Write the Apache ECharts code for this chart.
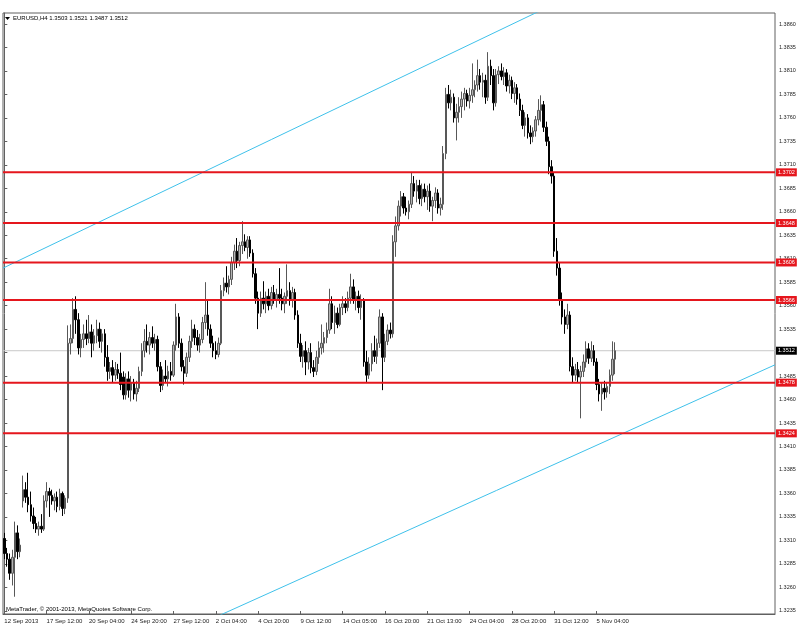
<!DOCTYPE html>
<html>
<head>
<meta charset="utf-8">
<script src="https://cdn.jsdelivr.net/npm/echarts@6/dist/echarts.min.js"></script>
<style>
html,body{margin:0;padding:0;background:#fff;}
#chart{width:800px;height:640px;}
</style>
</head>
<body>
<div id="chart"></div>
<script>
const symbol = 'EURUSD';
const timeframe = 'H4';
const tickLabels = ['12 Sep 2013','17 Sep 12:00','20 Sep 04:00','24 Sep 20:00','27 Sep 12:00','2 Oct 04:00','4 Oct 20:00','9 Oct 12:00','14 Oct 05:00','16 Oct 20:00','21 Oct 13:00','24 Oct 04:00','28 Oct 20:00','31 Oct 12:00','5 Nov 04:00'];
const barsPerLabel = 16;
const totalSlots = 292;
const priceTicks = [1.3235,1.3260,1.3285,1.3310,1.3335,1.3360,1.3385,1.3410,1.3435,1.3460,1.3485,1.3510,1.3535,1.3560,1.3585,1.3610,1.3635,1.3660,1.3685,1.3710,1.3735,1.3760,1.3785,1.3810,1.3835,1.3860];
const levels = [1.3702,1.3648,1.3606,1.3566,1.3478,1.3424];
const lastPrice = 1.3512;
const upperTrend = [[-0.5,1.3600],[210,1.3884]];
const lowerTrend = [[75,1.3222],[291.5,1.3497]];
// [open, high, low, close]
const bars = [
[1.3312,1.3318,1.3290,1.3296],[1.3296,1.3302,1.3282,1.3290],[1.3290,1.3296,1.3268,1.3275],[1.3275,1.3300,1.3262,1.3292],
[1.3292,1.3330,1.3250,1.3318],[1.3318,1.3326,1.3290,1.3298],[1.3298,1.3312,1.3292,1.3305],[1.3352,1.3379,1.3345,1.3364],
[1.3364,1.3372,1.3350,1.3356],[1.3356,1.3382,1.3340,1.3348],[1.3348,1.3362,1.3330,1.3336],[1.3336,1.3345,1.3322,1.3328],
[1.3328,1.3335,1.3318,1.3322],[1.3322,1.3330,1.3315,1.3325],[1.3325,1.3338,1.3318,1.3322],[1.3322,1.3358,1.3320,1.3352],
[1.3352,1.3372,1.3345,1.3362],[1.3362,1.3366,1.3335,1.3358],[1.3358,1.3364,1.3348,1.3352],[1.3352,1.3360,1.3342,1.3356],
[1.3356,1.3362,1.3340,1.3346],[1.3346,1.3365,1.3342,1.3360],[1.3360,1.3362,1.3336,1.3344],[1.3344,1.3358,1.3338,1.3355],
[1.3355,1.3539,1.3350,1.3520],[1.3520,1.3540,1.3508,1.3525],[1.3525,1.3568,1.3520,1.3556],[1.3556,1.3570,1.3530,1.3545],
[1.3545,1.3552,1.3508,1.3515],[1.3515,1.3530,1.3505,1.3524],[1.3524,1.3540,1.3515,1.3530],[1.3530,1.3545,1.3518,1.3525],
[1.3525,1.3550,1.3520,1.3532],[1.3532,1.3540,1.3505,1.3520],[1.3520,1.3535,1.3512,1.3528],[1.3528,1.3545,1.3520,1.3535],
[1.3535,1.3542,1.3515,1.3522],[1.3522,1.3535,1.3510,1.3530],[1.3530,1.3535,1.3495,1.3505],[1.3505,1.3518,1.3480,1.3490],
[1.3490,1.3500,1.3482,1.3494],[1.3494,1.3502,1.3478,1.3486],[1.3486,1.3500,1.3480,1.3492],[1.3492,1.3498,1.3482,1.3488],
[1.3488,1.3510,1.3470,1.3476],[1.3484,1.3490,1.3460,1.3465],[1.3465,1.3488,1.3460,1.3482],[1.3482,1.3490,1.3462,1.3470],
[1.3470,1.3485,1.3458,1.3478],[1.3478,1.3482,1.3460,1.3466],[1.3466,1.3480,1.3458,1.3472],[1.3472,1.3495,1.3468,1.3490],
[1.3490,1.3520,1.3485,1.3512],[1.3512,1.3535,1.3505,1.3522],[1.3522,1.3540,1.3510,1.3518],[1.3518,1.3532,1.3508,1.3526],
[1.3526,1.3538,1.3515,1.3520],[1.3520,1.3530,1.3512,1.3524],[1.3524,1.3528,1.3490,1.3495],[1.3495,1.3500,1.3468,1.3475],
[1.3475,1.3492,1.3470,1.3485],[1.3485,1.3502,1.3478,1.3482],[1.3482,1.3496,1.3474,1.3490],[1.3490,1.3500,1.3480,1.3486],
[1.3486,1.3522,1.3484,1.3518],[1.3518,1.3562,1.3512,1.3548],[1.3548,1.3552,1.3515,1.3520],[1.3520,1.3525,1.3490,1.3495],
[1.3495,1.3502,1.3476,1.3488],[1.3488,1.3510,1.3484,1.3505],[1.3505,1.3528,1.3500,1.3522],[1.3522,1.3545,1.3515,1.3535],
[1.3535,1.3540,1.3518,1.3526],[1.3526,1.3534,1.3512,1.3518],[1.3518,1.3530,1.3510,1.3524],[1.3524,1.3548,1.3520,1.3542],
[1.3542,1.3585,1.3535,1.3550],[1.3550,1.3565,1.3528,1.3535],[1.3535,1.3540,1.3515,1.3520],[1.3520,1.3528,1.3505,1.3512],
[1.3512,1.3522,1.3503,1.3508],[1.3508,1.3526,1.3505,1.3520],[1.3520,1.3582,1.3518,1.3576],[1.3576,1.3590,1.3570,1.3584],
[1.3584,1.3602,1.3574,1.3580],[1.3580,1.3592,1.3572,1.3588],[1.3588,1.3612,1.3582,1.3606],[1.3606,1.3625,1.3598,1.3618],
[1.3618,1.3632,1.3600,1.3608],[1.3608,1.3628,1.3602,1.3624],[1.3624,1.3650,1.3615,1.3628],[1.3628,1.3636,1.3618,1.3622],
[1.3622,1.3634,1.3610,1.3630],[1.3630,1.3634,1.3612,1.3616],[1.3616,1.3620,1.3590,1.3594],[1.3594,1.3600,1.3562,1.3568],
[1.3568,1.3575,1.3535,1.3552],[1.3552,1.3575,1.3548,1.3568],[1.3568,1.3586,1.3556,1.3562],[1.3562,1.3575,1.3552,1.3570],
[1.3570,1.3578,1.3555,1.3560],[1.3560,1.3580,1.3556,1.3574],[1.3574,1.3582,1.3562,1.3566],[1.3566,1.3578,1.3558,1.3572],
[1.3572,1.3600,1.3562,1.3568],[1.3568,1.3578,1.3555,1.3562],[1.3562,1.3574,1.3552,1.3570],[1.3570,1.3604,1.3562,1.3576],
[1.3576,1.3585,1.3560,1.3566],[1.3566,1.3580,1.3558,1.3574],[1.3574,1.3578,1.3545,1.3550],[1.3550,1.3555,1.3515,1.3520],
[1.3520,1.3530,1.3500,1.3506],[1.3506,1.3518,1.3494,1.3512],[1.3512,1.3522,1.3486,1.3500],[1.3500,1.3515,1.3492,1.3510],
[1.3510,1.3520,1.3488,1.3494],[1.3494,1.3502,1.3484,1.3490],[1.3490,1.3512,1.3486,1.3505],[1.3505,1.3522,1.3498,1.3515],
[1.3515,1.3540,1.3508,1.3520],[1.3520,1.3532,1.3510,1.3526],[1.3526,1.3542,1.3520,1.3534],[1.3534,1.3578,1.3530,1.3562],
[1.3562,1.3570,1.3535,1.3542],[1.3542,1.3560,1.3530,1.3552],[1.3552,1.3558,1.3536,1.3540],[1.3540,1.3562,1.3538,1.3558],
[1.3558,1.3570,1.3550,1.3562],[1.3562,1.3568,1.3552,1.3558],[1.3558,1.3575,1.3554,1.3568],[1.3568,1.3594,1.3562,1.3580],
[1.3580,1.3588,1.3562,1.3566],[1.3566,1.3575,1.3555,1.3570],[1.3570,1.3576,1.3552,1.3558],[1.3558,1.3572,1.3545,1.3565],
[1.3565,1.3568,1.3495,1.3500],[1.3500,1.3512,1.3478,1.3486],[1.3486,1.3505,1.3482,1.3498],[1.3498,1.3520,1.3490,1.3512],
[1.3512,1.3528,1.3500,1.3506],[1.3506,1.3525,1.3498,1.3520],[1.3520,1.3556,1.3515,1.3548],[1.3548,1.3552,1.3470,1.3505],
[1.3505,1.3530,1.3500,1.3522],[1.3522,1.3540,1.3518,1.3534],[1.3534,1.3542,1.3525,1.3530],[1.3530,1.3635,1.3526,1.3628],
[1.3628,1.3655,1.3612,1.3645],[1.3645,1.3672,1.3640,1.3666],[1.3666,1.3682,1.3655,1.3676],[1.3676,1.3680,1.3658,1.3664],
[1.3664,1.3676,1.3656,1.3660],[1.3660,1.3672,1.3652,1.3668],[1.3668,1.3702,1.3664,1.3690],[1.3690,1.3698,1.3676,1.3682],
[1.3682,1.3694,1.3670,1.3688],[1.3688,1.3694,1.3668,1.3674],[1.3674,1.3690,1.3666,1.3684],[1.3684,1.3690,1.3670,1.3676],
[1.3676,1.3688,1.3662,1.3682],[1.3682,1.3690,1.3660,1.3666],[1.3666,1.3676,1.3650,1.3672],[1.3672,1.3686,1.3664,1.3680],
[1.3680,1.3684,1.3658,1.3664],[1.3664,1.3675,1.3656,1.3668],[1.3668,1.3730,1.3662,1.3722],[1.3722,1.3792,1.3716,1.3785],
[1.3785,1.3795,1.3770,1.3776],[1.3776,1.3790,1.3768,1.3782],[1.3782,1.3786,1.3755,1.3760],[1.3760,1.3775,1.3736,1.3766],
[1.3766,1.3782,1.3755,1.3772],[1.3772,1.3788,1.3760,1.3780],[1.3780,1.3792,1.3768,1.3786],[1.3786,1.3790,1.3772,1.3778],
[1.3778,1.3792,1.3770,1.3784],[1.3784,1.3818,1.3776,1.3790],[1.3790,1.3800,1.3782,1.3795],[1.3795,1.3822,1.3788,1.3805],
[1.3805,1.3812,1.3790,1.3798],[1.3798,1.3808,1.3782,1.3800],[1.3800,1.3806,1.3775,1.3782],[1.3782,1.3830,1.3778,1.3815],
[1.3815,1.3822,1.3795,1.3805],[1.3805,1.3812,1.3768,1.3776],[1.3776,1.3812,1.3772,1.3806],[1.3806,1.3815,1.3796,1.3810],
[1.3810,1.3818,1.3800,1.3804],[1.3804,1.3814,1.3795,1.3808],[1.3808,1.3812,1.3788,1.3794],[1.3794,1.3806,1.3786,1.3800],
[1.3800,1.3804,1.3780,1.3786],[1.3786,1.3798,1.3776,1.3792],[1.3792,1.3796,1.3774,1.3780],[1.3780,1.3786,1.3762,1.3768],
[1.3768,1.3774,1.3748,1.3752],[1.3752,1.3766,1.3740,1.3760],[1.3760,1.3764,1.3738,1.3744],[1.3744,1.3752,1.3732,1.3740],
[1.3740,1.3750,1.3734,1.3746],[1.3746,1.3762,1.3740,1.3758],[1.3758,1.3780,1.3752,1.3768],[1.3768,1.3784,1.3756,1.3774],
[1.3774,1.3778,1.3745,1.3750],[1.3750,1.3756,1.3730,1.3735],[1.3735,1.3740,1.3700,1.3708],[1.3708,1.3715,1.3690,1.3698],
[1.3698,1.3702,1.3612,1.3618],[1.3618,1.3632,1.3592,1.3600],[1.3600,1.3606,1.3560,1.3566],[1.3566,1.3574,1.3540,1.3548],
[1.3548,1.3556,1.3530,1.3540],[1.3540,1.3562,1.3535,1.3550],[1.3550,1.3554,1.3490,1.3495],[1.3495,1.3505,1.3478,1.3486],
[1.3486,1.3498,1.3480,1.3492],[1.3492,1.3500,1.3478,1.3484],[1.3484,1.3496,1.3440,1.3490],[1.3490,1.3508,1.3484,1.3500],
[1.3500,1.3522,1.3494,1.3514],[1.3514,1.3520,1.3498,1.3504],[1.3504,1.3522,1.3500,1.3512],[1.3512,1.3518,1.3496,1.3500],
[1.3500,1.3504,1.3470,1.3476],[1.3476,1.3482,1.3458,1.3466],[1.3466,1.3478,1.3448,1.3472],[1.3472,1.3480,1.3460,1.3468],
[1.3468,1.3478,1.3462,1.3474],[1.3474,1.3492,1.3466,1.3486],[1.3486,1.3522,1.3480,1.3503],[1.3503,1.3521,1.3487,1.3512]
];

const FONT = 'Liberation Sans';
const slots = [];
for (let i = 0; i < totalSlots; i++) slots.push(String(i));
const candleData = bars.map(b => [b[0], b[3], b[2], b[1]]);
const showTick = (idx) => idx % barsPerLabel === 0 && idx / barsPerLabel < tickLabels.length;
const last = bars[bars.length - 1];
const header = symbol + ',' + timeframe + ' ' + last.map(v => v.toFixed(4)).join(' ');
const xMin = -0.5, xMax = totalSlots - 0.5;

function hLine(v, lineColor, width, labelBg, z) {
  return {
    type: 'line', xAxisIndex: 1, yAxisIndex: 0, z: z, silent: true,
    data: [[xMin, v], [xMax, v]], showSymbol: false, symbol: 'none', clip: false,
    lineStyle: {color: lineColor, width: width},
    endLabel: {show: true, formatter: v.toFixed(4), backgroundColor: labelBg, color: '#fff',
               fontSize: 5.5, fontFamily: FONT, padding: [1, 2, 1, 2], distance: 1}
  };
}

const chart = echarts.init(document.getElementById('chart'), null, {renderer: 'canvas'});
chart.setOption({
  animation: false,
  backgroundColor: '#ffffff',
  grid: {left: 3, right: 25, top: 13, bottom: 26, containLabel: false, outerBoundsMode: 'none',
         show: true, borderColor: '#606060', borderWidth: 1},
  xAxis: [{
    type: 'category', data: slots, boundaryGap: true, gridIndex: 0,
    axisLine: {show: true, lineStyle: {color: '#606060'}},
    axisTick: {show: true, inside: true, length: 3, alignWithLabel: true, interval: (i) => showTick(i), lineStyle: {color: '#606060'}},
    axisLabel: {show: true, interval: (i) => showTick(i), formatter: (v, i) => tickLabels[i / barsPerLabel] || '',
                align: 'left', fontSize: 6, fontFamily: FONT, color: '#222', margin: 4},
    splitLine: {show: false}
  }, {
    type: 'value', min: xMin, max: xMax, gridIndex: 0, show: false
  }],
  yAxis: {
    type: 'value', position: 'right', min: 1.32316, max: 1.38717, scale: true,
    axisLine: {show: true, lineStyle: {color: '#606060'}},
    axisTick: {show: true, length: 3, customValues: priceTicks, lineStyle: {color: '#606060'}},
    axisLabel: {show: true, customValues: priceTicks, formatter: (v) => v.toFixed(4), fontSize: 5.5,
                fontFamily: FONT, color: '#222', margin: 4, padding: [0, 0, 4, 0]},
    splitLine: {show: false}
  },
  series: [
    hLine(lastPrice, '#c8c8c8', 1, '#000', 1),
    {
      type: 'candlestick', xAxisIndex: 0, yAxisIndex: 0, data: candleData, barWidth: 2, z: 2,
      itemStyle: {color: '#b4b4b4', color0: '#000000', borderColor: '#585858', borderColor0: '#000000', borderWidth: 1}
    },
    {
      type: 'line', xAxisIndex: 1, yAxisIndex: 0, data: upperTrend, showSymbol: false, clip: true, z: 3,
      lineStyle: {color: '#3fc1ea', width: 1}
    },
    {
      type: 'line', xAxisIndex: 1, yAxisIndex: 0, data: lowerTrend, showSymbol: false, clip: true, z: 3,
      lineStyle: {color: '#3fc1ea', width: 1}
    }
  ].concat(levels.map(v => hLine(v, '#e5161d', 2, '#e5161d', 4))),
  graphic: [
    {type: 'polygon', shape: {points: [[5, 17], [10, 17], [7.5, 20]]}, style: {fill: '#000'}},
    {type: 'text', left: 13, top: 15, style: {text: header, fontSize: 6, fontFamily: FONT, fill: '#000'}},
    {type: 'text', left: 6, top: 606, style: {text: 'MetaTrader, © 2001-2013, MetaQuotes Software Corp.', fontSize: 6, fontFamily: FONT, fill: '#000'}}
  ]
});
</script>
</body>
</html>
